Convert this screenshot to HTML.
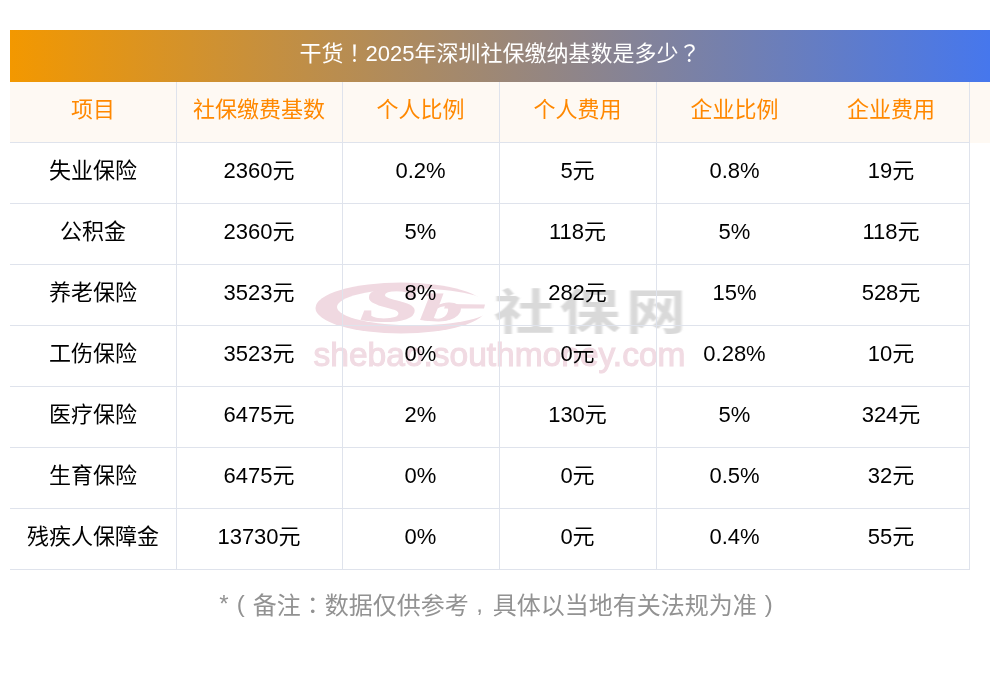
<!DOCTYPE html>
<html lang="zh-CN">
<head>
<meta charset="utf-8">
<title>干货！2025年深圳社保缴纳基数是多少？</title>
<style>
html,body{margin:0;padding:0;background:#fff;width:1000px;height:673px;overflow:hidden;}
body{font-family:"Liberation Sans","Noto Sans CJK SC",sans-serif;position:relative;}
.title{position:absolute;left:10px;top:30px;width:980px;height:52px;
  background:linear-gradient(90deg,#f39800 0%,#4677ed 100%);
  color:#fff;font-size:22px;line-height:42px;text-align:center;}
.hdrbg{position:absolute;left:10px;top:82px;width:980px;height:61px;background:#fef9f3;}
.hl{position:absolute;left:10px;width:960px;height:1px;background:#dfe3ec;}
.vl{position:absolute;top:82px;height:488px;width:1px;background:#dfe3ec;}
.row{position:absolute;left:10px;height:60px;width:960px;display:flex;}
.row div{text-align:center;font-size:22px;line-height:56px;color:#000;white-space:nowrap;}
.row.h div{color:#ff8800;}
.c1{width:166px;}.c2{width:166px;}.c3{width:157px;}.c4{width:157px;}.c5{width:157px;}.c6{width:156px;}
.note{position:absolute;left:0;top:589px;width:1000px;text-align:center;color:#929292;font-size:24px;line-height:30px;}
.pt{font-family:"Noto Sans CJK TC",sans-serif;}
.pp{display:inline-block;width:1em;text-align:center;font-family:"Liberation Sans",sans-serif;position:relative;top:-2px;}
.ast{position:relative;top:-2px;}
</style>
</head>
<body><div id="wrap" style="position:absolute;left:0;top:0;width:1000px;height:673px;will-change:transform;">
<div class="title">干货<span class="pt" lang="zh-TW">！</span>2025年深圳社保缴纳基数是多少<span class="pt" lang="zh-TW">？</span></div>
<div class="hdrbg"></div>
<svg class="wm" width="1000" height="673" viewBox="0 0 1000 673" style="position:absolute;left:0;top:0;">
<defs><filter id="bl" x="-5%" y="-20%" width="110%" height="140%"><feGaussianBlur stdDeviation="0.7"/></filter><filter id="bl2" x="-5%" y="-20%" width="110%" height="140%"><feGaussianBlur stdDeviation="0.9"/></filter><mask id="mk"><rect x="0" y="0" width="1000" height="673" fill="#fff"/><ellipse cx="414.4" cy="307" rx="77.4" ry="18.5" fill="#000"/></mask></defs>
<g filter="url(#bl)"><g fill="#f0d9e1">
<ellipse cx="401" cy="308" rx="85.5" ry="25.5" mask="url(#mk)"/>
<text x="0" y="0" transform="translate(360,321) scale(2.12,1)" font-family="Liberation Serif" font-weight="bold" font-style="italic" font-size="51" stroke="#f0d9e1" stroke-width="1.2">S</text>
<text x="0" y="0" transform="translate(420,320.5) scale(2.3,1)" font-family="Liberation Serif" font-weight="bold" font-style="italic" font-size="37" stroke="#f0d9e1" stroke-width="0.8">b</text>
<polygon points="446,304 485,304.5 484,308.6 444,308.6"/>
</g>
<text x="0" y="0" transform="translate(494,329) scale(1.08,0.86)" font-family="Noto Sans CJK SC" font-weight="700" font-size="56" letter-spacing="5" fill="#d9d9d9" filter="url(#bl2)">社保网</text>
<text x="313.5" y="365.5" font-family="Liberation Sans" font-size="34" fill="#f1dbe3" stroke="#f1dbe3" stroke-width="1.1" textLength="372" lengthAdjust="spacingAndGlyphs">shebao.southmoney.com</text>
</g></svg>

<div class="hl" style="top:142px"></div>
<div class="hl" style="top:203px"></div>
<div class="hl" style="top:264px"></div>
<div class="hl" style="top:325px"></div>
<div class="hl" style="top:386px"></div>
<div class="hl" style="top:447px"></div>
<div class="hl" style="top:508px"></div>
<div class="hl" style="top:569px"></div>
<div class="vl" style="left:176px"></div>
<div class="vl" style="left:342px"></div>
<div class="vl" style="left:499px"></div>
<div class="vl" style="left:656px"></div>
<div class="vl" style="left:969px"></div>

<div class="row h" style="top:82px"><div class="c1">项目</div><div class="c2">社保缴费基数</div><div class="c3">个人比例</div><div class="c4">个人费用</div><div class="c5">企业比例</div><div class="c6">企业费用</div></div>
<div class="row" style="top:143px"><div class="c1">失业保险</div><div class="c2">2360元</div><div class="c3">0.2%</div><div class="c4">5元</div><div class="c5">0.8%</div><div class="c6">19元</div></div>
<div class="row" style="top:204px"><div class="c1">公积金</div><div class="c2">2360元</div><div class="c3">5%</div><div class="c4">118元</div><div class="c5">5%</div><div class="c6">118元</div></div>
<div class="row" style="top:265px"><div class="c1">养老保险</div><div class="c2">3523元</div><div class="c3">8%</div><div class="c4">282元</div><div class="c5">15%</div><div class="c6">528元</div></div>
<div class="row" style="top:326px"><div class="c1">工伤保险</div><div class="c2">3523元</div><div class="c3">0%</div><div class="c4">0元</div><div class="c5">0.28%</div><div class="c6">10元</div></div>
<div class="row" style="top:387px"><div class="c1">医疗保险</div><div class="c2">6475元</div><div class="c3">2%</div><div class="c4">130元</div><div class="c5">5%</div><div class="c6">324元</div></div>
<div class="row" style="top:448px"><div class="c1">生育保险</div><div class="c2">6475元</div><div class="c3">0%</div><div class="c4">0元</div><div class="c5">0.5%</div><div class="c6">32元</div></div>
<div class="row" style="top:509px"><div class="c1">残疾人保障金</div><div class="c2">13730元</div><div class="c3">0%</div><div class="c4">0元</div><div class="c5">0.4%</div><div class="c6">55元</div></div>

<div class="note"><span class="ast">*</span><span class="pp">(</span>备注<span class="pt" lang="zh-TW">：</span>数据仅供参考<span class="pp" style="left:-1px">,</span>具体以当地有关法规为准<span class="pp">)</span></div>
</div></body>
</html>
